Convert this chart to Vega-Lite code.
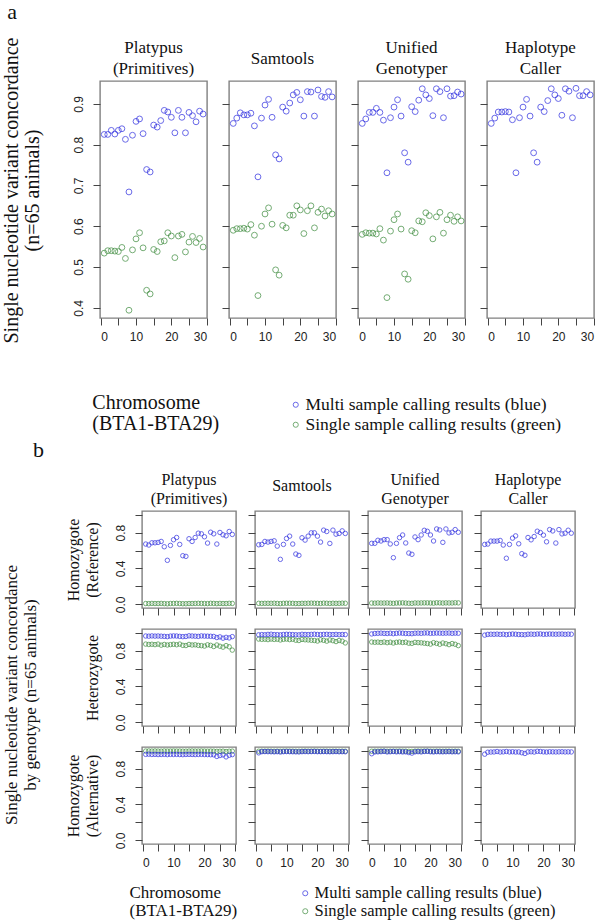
{
  "$schema": "https://vega.github.io/schema/vega-lite/v6.json",
  "description": "SNV concordance per chromosome, multi vs single sample calling",
  "background": "white",
  "padding": {"left": 2, "top": 0, "right": 0, "bottom": 0},
  "config": {
    "view": {"stroke": "#808080", "strokeWidth": 1.4},
    "axis": {"grid": false, "domain": false, "tickColor": "#444", "tickSize": 7, "labelFont": "Liberation Sans", "labelFontSize": 12, "labelColor": "#222", "titleFont": "Liberation Serif", "titleFontWeight": "normal", "titleFontSize": 17, "titleColor": "#111", "titleLineHeight": 20},
    "axisY": {"labelAngle": 270, "labelAlign": "center", "labelBaseline": "bottom", "labelPadding": 8},
    "axisX": {"labelPadding": 6},
    "title": {"font": "Liberation Serif", "fontWeight": "normal", "fontSize": 17, "color": "#111", "lineHeight": 21},
    "point": {"filled": false, "shape": "circle", "strokeWidth": 1, "size": 20},
    "range": {"category": ["#2a2ae0", "#3a8a3a"]},
    "legend": {"orient": "none", "labelFont": "Liberation Serif", "labelFontSize": 16, "labelColor": "#111", "labelLimit": 400, "symbolSize": 26, "symbolStrokeWidth": 1.2, "rowPadding": 1, "labelOffset": 1, "padding": 0}
  },
  "datasets": {
    "aPLm": [{"chr":1,"v":0.825},{"chr":2,"v":0.825},{"chr":3,"v":0.835},{"chr":4,"v":0.826},{"chr":5,"v":0.835},{"chr":6,"v":0.839},{"chr":7,"v":0.813},{"chr":8,"v":0.684},{"chr":9,"v":0.823},{"chr":10,"v":0.857},{"chr":11,"v":0.863},{"chr":12,"v":0.827},{"chr":13,"v":0.739},{"chr":14,"v":0.733},{"chr":15,"v":0.848},{"chr":16,"v":0.843},{"chr":17,"v":0.859},{"chr":18,"v":0.884},{"chr":19,"v":0.880},{"chr":20,"v":0.867},{"chr":21,"v":0.829},{"chr":22,"v":0.884},{"chr":23,"v":0.867},{"chr":24,"v":0.829},{"chr":25,"v":0.879},{"chr":26,"v":0.871},{"chr":27,"v":0.856},{"chr":28,"v":0.882},{"chr":29,"v":0.875}],
    "aPLs": [{"chr":1,"v":0.534},{"chr":2,"v":0.540},{"chr":3,"v":0.540},{"chr":4,"v":0.539},{"chr":5,"v":0.538},{"chr":6,"v":0.548},{"chr":7,"v":0.521},{"chr":8,"v":0.394},{"chr":9,"v":0.542},{"chr":10,"v":0.569},{"chr":11,"v":0.584},{"chr":12,"v":0.547},{"chr":13,"v":0.443},{"chr":14,"v":0.434},{"chr":15,"v":0.543},{"chr":16,"v":0.538},{"chr":17,"v":0.562},{"chr":18,"v":0.564},{"chr":19,"v":0.584},{"chr":20,"v":0.576},{"chr":21,"v":0.523},{"chr":22,"v":0.576},{"chr":23,"v":0.580},{"chr":24,"v":0.537},{"chr":25,"v":0.561},{"chr":26,"v":0.575},{"chr":27,"v":0.560},{"chr":28,"v":0.570},{"chr":29,"v":0.549}],
    "aSTm": [{"chr":1,"v":0.852},{"chr":2,"v":0.865},{"chr":3,"v":0.878},{"chr":4,"v":0.873},{"chr":5,"v":0.873},{"chr":6,"v":0.877},{"chr":7,"v":0.846},{"chr":8,"v":0.721},{"chr":9,"v":0.865},{"chr":10,"v":0.897},{"chr":11,"v":0.911},{"chr":12,"v":0.867},{"chr":13,"v":0.775},{"chr":14,"v":0.765},{"chr":15,"v":0.892},{"chr":16,"v":0.882},{"chr":17,"v":0.902},{"chr":18,"v":0.922},{"chr":19,"v":0.928},{"chr":20,"v":0.910},{"chr":21,"v":0.870},{"chr":22,"v":0.930},{"chr":23,"v":0.929},{"chr":24,"v":0.870},{"chr":25,"v":0.934},{"chr":26,"v":0.918},{"chr":27,"v":0.916},{"chr":28,"v":0.930},{"chr":29,"v":0.917}],
    "aSTs": [{"chr":1,"v":0.590},{"chr":2,"v":0.594},{"chr":3,"v":0.594},{"chr":4,"v":0.595},{"chr":5,"v":0.593},{"chr":6,"v":0.604},{"chr":7,"v":0.578},{"chr":8,"v":0.430},{"chr":9,"v":0.600},{"chr":10,"v":0.630},{"chr":11,"v":0.645},{"chr":12,"v":0.605},{"chr":13,"v":0.493},{"chr":14,"v":0.480},{"chr":15,"v":0.602},{"chr":16,"v":0.596},{"chr":17,"v":0.627},{"chr":18,"v":0.627},{"chr":19,"v":0.650},{"chr":20,"v":0.640},{"chr":21,"v":0.582},{"chr":22,"v":0.638},{"chr":23,"v":0.650},{"chr":24,"v":0.596},{"chr":25,"v":0.634},{"chr":26,"v":0.642},{"chr":27,"v":0.625},{"chr":28,"v":0.638},{"chr":29,"v":0.630}],
    "aUGm": [{"chr":1,"v":0.852},{"chr":2,"v":0.863},{"chr":3,"v":0.879},{"chr":4,"v":0.879},{"chr":5,"v":0.889},{"chr":6,"v":0.879},{"chr":7,"v":0.860},{"chr":8,"v":0.731},{"chr":9,"v":0.866},{"chr":10,"v":0.892},{"chr":11,"v":0.910},{"chr":12,"v":0.870},{"chr":13,"v":0.780},{"chr":14,"v":0.757},{"chr":15,"v":0.893},{"chr":16,"v":0.881},{"chr":17,"v":0.909},{"chr":18,"v":0.937},{"chr":19,"v":0.922},{"chr":20,"v":0.913},{"chr":21,"v":0.871},{"chr":22,"v":0.937},{"chr":23,"v":0.930},{"chr":24,"v":0.866},{"chr":25,"v":0.937},{"chr":26,"v":0.919},{"chr":27,"v":0.920},{"chr":28,"v":0.929},{"chr":29,"v":0.924}],
    "aUGs": [{"chr":1,"v":0.580},{"chr":2,"v":0.584},{"chr":3,"v":0.583},{"chr":4,"v":0.583},{"chr":5,"v":0.581},{"chr":6,"v":0.594},{"chr":7,"v":0.566},{"chr":8,"v":0.425},{"chr":9,"v":0.588},{"chr":10,"v":0.616},{"chr":11,"v":0.630},{"chr":12,"v":0.593},{"chr":13,"v":0.483},{"chr":14,"v":0.470},{"chr":15,"v":0.589},{"chr":16,"v":0.584},{"chr":17,"v":0.613},{"chr":18,"v":0.611},{"chr":19,"v":0.633},{"chr":20,"v":0.626},{"chr":21,"v":0.569},{"chr":22,"v":0.623},{"chr":23,"v":0.634},{"chr":24,"v":0.583},{"chr":25,"v":0.616},{"chr":26,"v":0.627},{"chr":27,"v":0.612},{"chr":28,"v":0.623},{"chr":29,"v":0.613}],
    "aHCm": [{"chr":1,"v":0.852},{"chr":2,"v":0.865},{"chr":3,"v":0.880},{"chr":4,"v":0.880},{"chr":5,"v":0.881},{"chr":6,"v":0.880},{"chr":7,"v":0.861},{"chr":8,"v":0.731},{"chr":9,"v":0.866},{"chr":10,"v":0.892},{"chr":11,"v":0.911},{"chr":12,"v":0.870},{"chr":13,"v":0.780},{"chr":14,"v":0.757},{"chr":15,"v":0.892},{"chr":16,"v":0.881},{"chr":17,"v":0.908},{"chr":18,"v":0.937},{"chr":19,"v":0.922},{"chr":20,"v":0.913},{"chr":21,"v":0.872},{"chr":22,"v":0.937},{"chr":23,"v":0.931},{"chr":24,"v":0.866},{"chr":25,"v":0.938},{"chr":26,"v":0.920},{"chr":27,"v":0.920},{"chr":28,"v":0.930},{"chr":29,"v":0.922}],
    "refPLm": [{"chr":1,"v":0.672},{"chr":2,"v":0.661},{"chr":3,"v":0.686},{"chr":4,"v":0.686},{"chr":5,"v":0.690},{"chr":6,"v":0.701},{"chr":7,"v":0.642},{"chr":8,"v":0.491},{"chr":9,"v":0.657},{"chr":10,"v":0.720},{"chr":11,"v":0.745},{"chr":12,"v":0.668},{"chr":13,"v":0.542},{"chr":14,"v":0.535},{"chr":15,"v":0.731},{"chr":16,"v":0.701},{"chr":17,"v":0.745},{"chr":18,"v":0.793},{"chr":19,"v":0.786},{"chr":20,"v":0.753},{"chr":21,"v":0.683},{"chr":22,"v":0.804},{"chr":23,"v":0.786},{"chr":24,"v":0.672},{"chr":25,"v":0.801},{"chr":26,"v":0.775},{"chr":27,"v":0.764},{"chr":28,"v":0.812},{"chr":29,"v":0.779}],
    "refPLs": [{"chr":1,"v":0.010},{"chr":2,"v":0.009},{"chr":3,"v":0.011},{"chr":4,"v":0.010},{"chr":5,"v":0.010},{"chr":6,"v":0.011},{"chr":7,"v":0.009},{"chr":8,"v":0.007},{"chr":9,"v":0.010},{"chr":10,"v":0.011},{"chr":11,"v":0.012},{"chr":12,"v":0.010},{"chr":13,"v":0.008},{"chr":14,"v":0.008},{"chr":15,"v":0.010},{"chr":16,"v":0.010},{"chr":17,"v":0.011},{"chr":18,"v":0.012},{"chr":19,"v":0.011},{"chr":20,"v":0.010},{"chr":21,"v":0.009},{"chr":22,"v":0.012},{"chr":23,"v":0.011},{"chr":24,"v":0.009},{"chr":25,"v":0.011},{"chr":26,"v":0.010},{"chr":27,"v":0.010},{"chr":28,"v":0.012},{"chr":29,"v":0.011}],
    "refSTm": [{"chr":1,"v":0.664},{"chr":2,"v":0.668},{"chr":3,"v":0.701},{"chr":4,"v":0.694},{"chr":5,"v":0.701},{"chr":6,"v":0.708},{"chr":7,"v":0.649},{"chr":8,"v":0.502},{"chr":9,"v":0.668},{"chr":10,"v":0.734},{"chr":11,"v":0.760},{"chr":12,"v":0.672},{"chr":13,"v":0.561},{"chr":14,"v":0.546},{"chr":15,"v":0.742},{"chr":16,"v":0.716},{"chr":17,"v":0.760},{"chr":18,"v":0.797},{"chr":19,"v":0.797},{"chr":20,"v":0.760},{"chr":21,"v":0.694},{"chr":22,"v":0.827},{"chr":23,"v":0.812},{"chr":24,"v":0.679},{"chr":25,"v":0.827},{"chr":26,"v":0.782},{"chr":27,"v":0.790},{"chr":28,"v":0.819},{"chr":29,"v":0.790}],
    "refSTs": [{"chr":1,"v":0.012},{"chr":2,"v":0.011},{"chr":3,"v":0.012},{"chr":4,"v":0.012},{"chr":5,"v":0.012},{"chr":6,"v":0.013},{"chr":7,"v":0.011},{"chr":8,"v":0.009},{"chr":9,"v":0.012},{"chr":10,"v":0.013},{"chr":11,"v":0.013},{"chr":12,"v":0.012},{"chr":13,"v":0.010},{"chr":14,"v":0.010},{"chr":15,"v":0.012},{"chr":16,"v":0.012},{"chr":17,"v":0.013},{"chr":18,"v":0.014},{"chr":19,"v":0.013},{"chr":20,"v":0.012},{"chr":21,"v":0.011},{"chr":22,"v":0.014},{"chr":23,"v":0.013},{"chr":24,"v":0.011},{"chr":25,"v":0.013},{"chr":26,"v":0.012},{"chr":27,"v":0.012},{"chr":28,"v":0.014},{"chr":29,"v":0.013}],
    "refUGm": [{"chr":1,"v":0.680},{"chr":2,"v":0.680},{"chr":3,"v":0.714},{"chr":4,"v":0.706},{"chr":5,"v":0.721},{"chr":6,"v":0.721},{"chr":7,"v":0.673},{"chr":8,"v":0.520},{"chr":9,"v":0.680},{"chr":10,"v":0.743},{"chr":11,"v":0.773},{"chr":12,"v":0.684},{"chr":13,"v":0.572},{"chr":14,"v":0.558},{"chr":15,"v":0.751},{"chr":16,"v":0.721},{"chr":17,"v":0.773},{"chr":18,"v":0.825},{"chr":19,"v":0.814},{"chr":20,"v":0.773},{"chr":21,"v":0.706},{"chr":22,"v":0.840},{"chr":23,"v":0.829},{"chr":24,"v":0.691},{"chr":25,"v":0.840},{"chr":26,"v":0.796},{"chr":27,"v":0.803},{"chr":28,"v":0.833},{"chr":29,"v":0.803}],
    "refUGs": [{"chr":1,"v":0.015},{"chr":2,"v":0.014},{"chr":3,"v":0.016},{"chr":4,"v":0.015},{"chr":5,"v":0.015},{"chr":6,"v":0.016},{"chr":7,"v":0.014},{"chr":8,"v":0.012},{"chr":9,"v":0.015},{"chr":10,"v":0.016},{"chr":11,"v":0.017},{"chr":12,"v":0.015},{"chr":13,"v":0.013},{"chr":14,"v":0.012},{"chr":15,"v":0.016},{"chr":16,"v":0.015},{"chr":17,"v":0.016},{"chr":18,"v":0.017},{"chr":19,"v":0.017},{"chr":20,"v":0.016},{"chr":21,"v":0.014},{"chr":22,"v":0.018},{"chr":23,"v":0.017},{"chr":24,"v":0.015},{"chr":25,"v":0.017},{"chr":26,"v":0.016},{"chr":27,"v":0.016},{"chr":28,"v":0.018},{"chr":29,"v":0.017}],
    "refHCm": [{"chr":1,"v":0.668},{"chr":2,"v":0.672},{"chr":3,"v":0.705},{"chr":4,"v":0.705},{"chr":5,"v":0.705},{"chr":6,"v":0.712},{"chr":7,"v":0.661},{"chr":8,"v":0.514},{"chr":9,"v":0.668},{"chr":10,"v":0.738},{"chr":11,"v":0.763},{"chr":12,"v":0.675},{"chr":13,"v":0.565},{"chr":14,"v":0.547},{"chr":15,"v":0.745},{"chr":16,"v":0.719},{"chr":17,"v":0.756},{"chr":18,"v":0.815},{"chr":19,"v":0.800},{"chr":20,"v":0.771},{"chr":21,"v":0.697},{"chr":22,"v":0.833},{"chr":23,"v":0.818},{"chr":24,"v":0.683},{"chr":25,"v":0.833},{"chr":26,"v":0.785},{"chr":27,"v":0.793},{"chr":28,"v":0.826},{"chr":29,"v":0.793}],
    "hetPLm": [{"chr":1,"v":0.962},{"chr":2,"v":0.960},{"chr":3,"v":0.963},{"chr":4,"v":0.961},{"chr":5,"v":0.962},{"chr":6,"v":0.960},{"chr":7,"v":0.958},{"chr":8,"v":0.955},{"chr":9,"v":0.961},{"chr":10,"v":0.963},{"chr":11,"v":0.962},{"chr":12,"v":0.958},{"chr":13,"v":0.955},{"chr":14,"v":0.957},{"chr":15,"v":0.964},{"chr":16,"v":0.962},{"chr":17,"v":0.960},{"chr":18,"v":0.958},{"chr":19,"v":0.963},{"chr":20,"v":0.961},{"chr":21,"v":0.960},{"chr":22,"v":0.959},{"chr":23,"v":0.957},{"chr":24,"v":0.945},{"chr":25,"v":0.952},{"chr":26,"v":0.938},{"chr":27,"v":0.947},{"chr":28,"v":0.941},{"chr":29,"v":0.955}],
    "hetPLs": [{"chr":1,"v":0.872},{"chr":2,"v":0.868},{"chr":3,"v":0.870},{"chr":4,"v":0.866},{"chr":5,"v":0.872},{"chr":6,"v":0.860},{"chr":7,"v":0.868},{"chr":8,"v":0.862},{"chr":9,"v":0.866},{"chr":10,"v":0.870},{"chr":11,"v":0.865},{"chr":12,"v":0.872},{"chr":13,"v":0.858},{"chr":14,"v":0.856},{"chr":15,"v":0.868},{"chr":16,"v":0.862},{"chr":17,"v":0.864},{"chr":18,"v":0.858},{"chr":19,"v":0.855},{"chr":20,"v":0.850},{"chr":21,"v":0.864},{"chr":22,"v":0.858},{"chr":23,"v":0.845},{"chr":24,"v":0.862},{"chr":25,"v":0.848},{"chr":26,"v":0.838},{"chr":27,"v":0.855},{"chr":28,"v":0.842},{"chr":29,"v":0.805}],
    "hetSTm": [{"chr":1,"v":0.975},{"chr":2,"v":0.978},{"chr":3,"v":0.976},{"chr":4,"v":0.980},{"chr":5,"v":0.982},{"chr":6,"v":0.978},{"chr":7,"v":0.977},{"chr":8,"v":0.975},{"chr":9,"v":0.979},{"chr":10,"v":0.981},{"chr":11,"v":0.980},{"chr":12,"v":0.978},{"chr":13,"v":0.976},{"chr":14,"v":0.975},{"chr":15,"v":0.981},{"chr":16,"v":0.979},{"chr":17,"v":0.978},{"chr":18,"v":0.980},{"chr":19,"v":0.982},{"chr":20,"v":0.979},{"chr":21,"v":0.978},{"chr":22,"v":0.980},{"chr":23,"v":0.981},{"chr":24,"v":0.979},{"chr":25,"v":0.978},{"chr":26,"v":0.980},{"chr":27,"v":0.977},{"chr":28,"v":0.979},{"chr":29,"v":0.978}],
    "hetSTs": [{"chr":1,"v":0.928},{"chr":2,"v":0.925},{"chr":3,"v":0.926},{"chr":4,"v":0.922},{"chr":5,"v":0.928},{"chr":6,"v":0.924},{"chr":7,"v":0.926},{"chr":8,"v":0.918},{"chr":9,"v":0.925},{"chr":10,"v":0.928},{"chr":11,"v":0.922},{"chr":12,"v":0.926},{"chr":13,"v":0.915},{"chr":14,"v":0.912},{"chr":15,"v":0.924},{"chr":16,"v":0.920},{"chr":17,"v":0.918},{"chr":18,"v":0.915},{"chr":19,"v":0.912},{"chr":20,"v":0.906},{"chr":21,"v":0.920},{"chr":22,"v":0.914},{"chr":23,"v":0.905},{"chr":24,"v":0.918},{"chr":25,"v":0.910},{"chr":26,"v":0.900},{"chr":27,"v":0.912},{"chr":28,"v":0.905},{"chr":29,"v":0.885}],
    "hetUGm": [{"chr":1,"v":0.985},{"chr":2,"v":0.990},{"chr":3,"v":0.992},{"chr":4,"v":0.994},{"chr":5,"v":0.991},{"chr":6,"v":0.990},{"chr":7,"v":0.993},{"chr":8,"v":0.988},{"chr":9,"v":0.992},{"chr":10,"v":0.995},{"chr":11,"v":0.993},{"chr":12,"v":0.990},{"chr":13,"v":0.989},{"chr":14,"v":0.988},{"chr":15,"v":0.993},{"chr":16,"v":0.994},{"chr":17,"v":0.992},{"chr":18,"v":0.995},{"chr":19,"v":0.996},{"chr":20,"v":0.992},{"chr":21,"v":0.993},{"chr":22,"v":0.995},{"chr":23,"v":0.994},{"chr":24,"v":0.993},{"chr":25,"v":0.994},{"chr":26,"v":0.995},{"chr":27,"v":0.992},{"chr":28,"v":0.994},{"chr":29,"v":0.993}],
    "hetUGs": [{"chr":1,"v":0.895},{"chr":2,"v":0.892},{"chr":3,"v":0.894},{"chr":4,"v":0.890},{"chr":5,"v":0.895},{"chr":6,"v":0.888},{"chr":7,"v":0.893},{"chr":8,"v":0.884},{"chr":9,"v":0.892},{"chr":10,"v":0.895},{"chr":11,"v":0.890},{"chr":12,"v":0.893},{"chr":13,"v":0.882},{"chr":14,"v":0.880},{"chr":15,"v":0.891},{"chr":16,"v":0.888},{"chr":17,"v":0.886},{"chr":18,"v":0.882},{"chr":19,"v":0.878},{"chr":20,"v":0.872},{"chr":21,"v":0.888},{"chr":22,"v":0.880},{"chr":23,"v":0.870},{"chr":24,"v":0.884},{"chr":25,"v":0.876},{"chr":26,"v":0.866},{"chr":27,"v":0.878},{"chr":28,"v":0.870},{"chr":29,"v":0.855}],
    "hetHCm": [{"chr":1,"v":0.972},{"chr":2,"v":0.980},{"chr":3,"v":0.982},{"chr":4,"v":0.981},{"chr":5,"v":0.983},{"chr":6,"v":0.980},{"chr":7,"v":0.982},{"chr":8,"v":0.977},{"chr":9,"v":0.981},{"chr":10,"v":0.984},{"chr":11,"v":0.982},{"chr":12,"v":0.979},{"chr":13,"v":0.978},{"chr":14,"v":0.976},{"chr":15,"v":0.982},{"chr":16,"v":0.983},{"chr":17,"v":0.981},{"chr":18,"v":0.984},{"chr":19,"v":0.985},{"chr":20,"v":0.981},{"chr":21,"v":0.982},{"chr":22,"v":0.984},{"chr":23,"v":0.983},{"chr":24,"v":0.982},{"chr":25,"v":0.983},{"chr":26,"v":0.984},{"chr":27,"v":0.981},{"chr":28,"v":0.983},{"chr":29,"v":0.982}],
    "altPLm": [{"chr":1,"v":0.958},{"chr":2,"v":0.960},{"chr":3,"v":0.957},{"chr":4,"v":0.958},{"chr":5,"v":0.956},{"chr":6,"v":0.957},{"chr":7,"v":0.958},{"chr":8,"v":0.955},{"chr":9,"v":0.958},{"chr":10,"v":0.957},{"chr":11,"v":0.958},{"chr":12,"v":0.956},{"chr":13,"v":0.955},{"chr":14,"v":0.957},{"chr":15,"v":0.958},{"chr":16,"v":0.957},{"chr":17,"v":0.956},{"chr":18,"v":0.957},{"chr":19,"v":0.958},{"chr":20,"v":0.956},{"chr":21,"v":0.955},{"chr":22,"v":0.954},{"chr":23,"v":0.953},{"chr":24,"v":0.935},{"chr":25,"v":0.945},{"chr":26,"v":0.952},{"chr":27,"v":0.930},{"chr":28,"v":0.948},{"chr":29,"v":0.955}],
    "altPLs": [{"chr":1,"v":0.995},{"chr":2,"v":0.996},{"chr":3,"v":0.995},{"chr":4,"v":0.996},{"chr":5,"v":0.995},{"chr":6,"v":0.994},{"chr":7,"v":0.996},{"chr":8,"v":0.995},{"chr":9,"v":0.995},{"chr":10,"v":0.996},{"chr":11,"v":0.995},{"chr":12,"v":0.995},{"chr":13,"v":0.994},{"chr":14,"v":0.994},{"chr":15,"v":0.995},{"chr":16,"v":0.996},{"chr":17,"v":0.995},{"chr":18,"v":0.995},{"chr":19,"v":0.996},{"chr":20,"v":0.995},{"chr":21,"v":0.994},{"chr":22,"v":0.995},{"chr":23,"v":0.994},{"chr":24,"v":0.992},{"chr":25,"v":0.993},{"chr":26,"v":0.994},{"chr":27,"v":0.990},{"chr":28,"v":0.993},{"chr":29,"v":0.994}],
    "altSTm": [{"chr":1,"v":0.975},{"chr":2,"v":0.988},{"chr":3,"v":0.989},{"chr":4,"v":0.988},{"chr":5,"v":0.987},{"chr":6,"v":0.986},{"chr":7,"v":0.988},{"chr":8,"v":0.984},{"chr":9,"v":0.988},{"chr":10,"v":0.989},{"chr":11,"v":0.988},{"chr":12,"v":0.987},{"chr":13,"v":0.986},{"chr":14,"v":0.985},{"chr":15,"v":0.988},{"chr":16,"v":0.989},{"chr":17,"v":0.988},{"chr":18,"v":0.989},{"chr":19,"v":0.990},{"chr":20,"v":0.988},{"chr":21,"v":0.988},{"chr":22,"v":0.989},{"chr":23,"v":0.988},{"chr":24,"v":0.987},{"chr":25,"v":0.988},{"chr":26,"v":0.989},{"chr":27,"v":0.987},{"chr":28,"v":0.988},{"chr":29,"v":0.987}],
    "altSTs": [{"chr":1,"v":0.993},{"chr":2,"v":0.994},{"chr":3,"v":0.994},{"chr":4,"v":0.995},{"chr":5,"v":0.994},{"chr":6,"v":0.993},{"chr":7,"v":0.994},{"chr":8,"v":0.993},{"chr":9,"v":0.994},{"chr":10,"v":0.995},{"chr":11,"v":0.994},{"chr":12,"v":0.994},{"chr":13,"v":0.993},{"chr":14,"v":0.993},{"chr":15,"v":0.994},{"chr":16,"v":0.995},{"chr":17,"v":0.994},{"chr":18,"v":0.994},{"chr":19,"v":0.995},{"chr":20,"v":0.994},{"chr":21,"v":0.993},{"chr":22,"v":0.994},{"chr":23,"v":0.994},{"chr":24,"v":0.993},{"chr":25,"v":0.994},{"chr":26,"v":0.994},{"chr":27,"v":0.993},{"chr":28,"v":0.994},{"chr":29,"v":0.993}],
    "altUGm": [{"chr":1,"v":0.965},{"chr":2,"v":0.985},{"chr":3,"v":0.986},{"chr":4,"v":0.988},{"chr":5,"v":0.992},{"chr":6,"v":0.985},{"chr":7,"v":0.987},{"chr":8,"v":0.990},{"chr":9,"v":0.986},{"chr":10,"v":0.988},{"chr":11,"v":0.985},{"chr":12,"v":0.986},{"chr":13,"v":0.978},{"chr":14,"v":0.972},{"chr":15,"v":0.986},{"chr":16,"v":0.988},{"chr":17,"v":0.985},{"chr":18,"v":0.990},{"chr":19,"v":0.992},{"chr":20,"v":0.987},{"chr":21,"v":0.985},{"chr":22,"v":0.988},{"chr":23,"v":0.987},{"chr":24,"v":0.986},{"chr":25,"v":0.987},{"chr":26,"v":0.988},{"chr":27,"v":0.986},{"chr":28,"v":0.987},{"chr":29,"v":0.986}],
    "altUGs": [{"chr":1,"v":0.993},{"chr":2,"v":0.994},{"chr":3,"v":0.994},{"chr":4,"v":0.995},{"chr":5,"v":0.995},{"chr":6,"v":0.993},{"chr":7,"v":0.994},{"chr":8,"v":0.994},{"chr":9,"v":0.994},{"chr":10,"v":0.995},{"chr":11,"v":0.994},{"chr":12,"v":0.994},{"chr":13,"v":0.992},{"chr":14,"v":0.991},{"chr":15,"v":0.994},{"chr":16,"v":0.995},{"chr":17,"v":0.994},{"chr":18,"v":0.995},{"chr":19,"v":0.995},{"chr":20,"v":0.994},{"chr":21,"v":0.993},{"chr":22,"v":0.994},{"chr":23,"v":0.994},{"chr":24,"v":0.993},{"chr":25,"v":0.994},{"chr":26,"v":0.994},{"chr":27,"v":0.993},{"chr":28,"v":0.994},{"chr":29,"v":0.993}],
    "altHCm": [{"chr":1,"v":0.960},{"chr":2,"v":0.982},{"chr":3,"v":0.984},{"chr":4,"v":0.985},{"chr":5,"v":0.990},{"chr":6,"v":0.984},{"chr":7,"v":0.986},{"chr":8,"v":0.990},{"chr":9,"v":0.985},{"chr":10,"v":0.987},{"chr":11,"v":0.984},{"chr":12,"v":0.985},{"chr":13,"v":0.976},{"chr":14,"v":0.968},{"chr":15,"v":0.985},{"chr":16,"v":0.987},{"chr":17,"v":0.984},{"chr":18,"v":0.992},{"chr":19,"v":0.990},{"chr":20,"v":0.986},{"chr":21,"v":0.984},{"chr":22,"v":0.987},{"chr":23,"v":0.986},{"chr":24,"v":0.985},{"chr":25,"v":0.986},{"chr":26,"v":0.987},{"chr":27,"v":0.985},{"chr":28,"v":0.986},{"chr":29,"v":0.985}]
  },
  "resolve": {"scale": {"color": "independent"}},
  "columns": 1,
  "spacing": 4,
  "concat": [
    {
      "title": {"text": "a", "anchor": "start", "fontSize": 22, "dx": 5, "offset": 14},
      "resolve": {"scale": {"color": "shared"}},
      "vconcat": [
        {
          "title": {"text": ["Chromosome", "(BTA1-BTA29)"], "orient": "bottom", "anchor": "start", "dx": 90, "offset": 50, "fontSize": 20, "lineHeight": 21},
          "resolve": {"scale": {"color": "shared"}},
          "vconcat": [
            {
              "title": {"text": ["Single nucleotide variant concordance", "(n=65 animals)"], "orient": "left", "anchor": "middle", "offset": 28, "fontSize": 20, "lineHeight": 21},
              "columns": 4,
              "spacing": 22,
              "bounds": "flush",
              "resolve": {"scale": {"color": "shared", "x": "independent", "y": "independent"}},
              "concat": [
                {
                  "width": 107, "height": 237,
                  "title": {"text": ["Platypus", "(Primitives)"], "offset": 3},
                  "encoding": {
                    "x": {"field": "chr", "type": "quantitative", "scale": {"domain": [-0.2, 30.1], "nice": false}, "axis": {"values": [0, 5, 10, 15, 20, 25, 30], "labelExpr": "datum.value % 10 ? '' : datum.label", "title": null}},
                    "y": {"field": "v", "type": "quantitative", "scale": {"domain": [0.375, 0.956], "nice": false}, "axis": {"values": [0.4, 0.5, 0.6, 0.7, 0.8, 0.9], "format": ".1f", "title": null}}
                  },
                  "layer": [
                    {"data": {"name": "aPLs"}, "mark": {"type": "point", "size": 34}, "encoding": {"color": {"datum": "single", "scale": {"domain": ["multi", "single"]}, "legend": {"title": null, "legendX": 187, "legendY": 315, "labelFontSize": 17.5, "labelExpr": "datum.label == 'multi' ? 'Multi sample calling results (blue)' : 'Single sample calling results (green)'"}}}},
                    {"data": {"name": "aPLm"}, "mark": {"type": "point", "size": 34}, "encoding": {"color": {"datum": "multi", "scale": {"domain": ["multi", "single"]}}}}
                  ]
                },
                {
                  "width": 107, "height": 237,
                  "title": {"text": "Samtools", "offset": 13},
                  "encoding": {
                    "x": {"field": "chr", "type": "quantitative", "scale": {"domain": [-0.2, 30.1], "nice": false}, "axis": {"values": [0, 5, 10, 15, 20, 25, 30], "labelExpr": "datum.value % 10 ? '' : datum.label", "title": null}},
                    "y": {"field": "v", "type": "quantitative", "scale": {"domain": [0.375, 0.956], "nice": false}, "axis": {"values": [0.4, 0.5, 0.6, 0.7, 0.8, 0.9], "labels": false, "title": null}}
                  },
                  "layer": [
                    {"data": {"name": "aSTs"}, "mark": {"type": "point", "size": 34}, "encoding": {"color": {"datum": "single", "scale": {"domain": ["multi", "single"]}}}},
                    {"data": {"name": "aSTm"}, "mark": {"type": "point", "size": 34}, "encoding": {"color": {"datum": "multi", "scale": {"domain": ["multi", "single"]}}}}
                  ]
                },
                {
                  "width": 107, "height": 237,
                  "title": {"text": ["Unified", "Genotyper"], "offset": 3},
                  "encoding": {
                    "x": {"field": "chr", "type": "quantitative", "scale": {"domain": [-0.2, 30.1], "nice": false}, "axis": {"values": [0, 5, 10, 15, 20, 25, 30], "labelExpr": "datum.value % 10 ? '' : datum.label", "title": null}},
                    "y": {"field": "v", "type": "quantitative", "scale": {"domain": [0.375, 0.956], "nice": false}, "axis": {"values": [0.4, 0.5, 0.6, 0.7, 0.8, 0.9], "labels": false, "title": null}}
                  },
                  "layer": [
                    {"data": {"name": "aUGs"}, "mark": {"type": "point", "size": 34}, "encoding": {"color": {"datum": "single", "scale": {"domain": ["multi", "single"]}}}},
                    {"data": {"name": "aUGm"}, "mark": {"type": "point", "size": 34}, "encoding": {"color": {"datum": "multi", "scale": {"domain": ["multi", "single"]}}}}
                  ]
                },
                {
                  "width": 107, "height": 237,
                  "title": {"text": ["Haplotype", "Caller"], "offset": 3},
                  "encoding": {
                    "x": {"field": "chr", "type": "quantitative", "scale": {"domain": [-0.2, 30.1], "nice": false}, "axis": {"values": [0, 5, 10, 15, 20, 25, 30], "labelExpr": "datum.value % 10 ? '' : datum.label", "title": null}},
                    "y": {"field": "v", "type": "quantitative", "scale": {"domain": [0.375, 0.956], "nice": false}, "axis": {"values": [0.4, 0.5, 0.6, 0.7, 0.8, 0.9], "labels": false, "title": null}}
                  },
                  "layer": [
                    {"data": {"name": "aHCm"}, "mark": {"type": "point", "size": 34}, "encoding": {"color": {"datum": "multi", "scale": {"domain": ["multi", "single"]}}}}
                  ]
                }
              ]
            }
          ]
        }
      ]
    },
    {
      "title": {"text": "b", "anchor": "start", "fontSize": 22, "dx": 30, "offset": 9},
      "resolve": {"scale": {"color": "shared"}},
      "vconcat": [
        {
          "title": {"text": ["Single nucleotide variant concordance", "by genotype (n=65 animals)"], "orient": "left", "anchor": "middle", "offset": 25, "fontSize": 17, "lineHeight": 19},
          "columns": 5,
          "spacing": {"row": 21, "column": 19},
          "bounds": "flush",
          "resolve": {"scale": {"color": "shared", "x": "independent", "y": "independent"}},
          "concat": [
            {
              "width": 23, "height": 97, "view": {"stroke": null},
              "data": {"values": []}, "mark": "point",
              "encoding": {"y": {"field": "v", "type": "quantitative", "scale": {"domain": [-0.04, 1.04], "nice": false}, "axis": {"ticks": false, "labels": false, "title": ["Homozygote", "(Reference)"], "titleFontSize": 16, "titleLineHeight": 19, "titlePadding": 0}}}
            },
            {
              "width": 94, "height": 97,
              "title": {"text": ["Platypus", "(Primitives)"], "fontSize": 16, "lineHeight": 19, "offset": 4},
              "encoding": {
                "x": {"field": "chr", "type": "quantitative", "scale": {"domain": [-0.2, 30.2], "nice": false}, "axis": {"values": [0, 5, 10, 15, 20, 25, 30], "labels": false, "title": null}},
                "y": {"field": "v", "type": "quantitative", "scale": {"domain": [-0.04, 1.04], "nice": false}, "axis": {"values": [0, 0.2, 0.4, 0.6, 0.8, 1], "labelExpr": "datum.value == 0 || datum.value == 0.4 || datum.value == 0.8 ? format(datum.value, '.1f') : ''", "title": null}}
              },
              "layer": [
                {"data": {"name": "refPLs"}, "mark": "point", "encoding": {"color": {"datum": "single", "scale": {"domain": ["multi", "single"]}, "legend": {"title": null, "legendX": 197, "legendY": 374, "labelFontSize": 16.5, "labelExpr": "datum.label == 'multi' ? 'Multi sample calling results (blue)' : 'Single sample calling results (green)'"}}}},
                {"data": {"name": "refPLm"}, "mark": "point", "encoding": {"color": {"datum": "multi", "scale": {"domain": ["multi", "single"]}}}}
              ]
            },
            {
              "width": 94, "height": 97,
              "title": {"text": "Samtools", "fontSize": 16, "offset": 17},
              "encoding": {
                "x": {"field": "chr", "type": "quantitative", "scale": {"domain": [-0.2, 30.2], "nice": false}, "axis": {"values": [0, 5, 10, 15, 20, 25, 30], "labels": false, "title": null}},
                "y": {"field": "v", "type": "quantitative", "scale": {"domain": [-0.04, 1.04], "nice": false}, "axis": {"values": [0, 0.2, 0.4, 0.6, 0.8, 1], "labels": false, "title": null}}
              },
              "layer": [
                {"data": {"name": "refSTs"}, "mark": "point", "encoding": {"color": {"datum": "single", "scale": {"domain": ["multi", "single"]}}}},
                {"data": {"name": "refSTm"}, "mark": "point", "encoding": {"color": {"datum": "multi", "scale": {"domain": ["multi", "single"]}}}}
              ]
            },
            {
              "width": 94, "height": 97,
              "title": {"text": ["Unified", "Genotyper"], "fontSize": 16, "lineHeight": 19, "offset": 4},
              "encoding": {
                "x": {"field": "chr", "type": "quantitative", "scale": {"domain": [-0.2, 30.2], "nice": false}, "axis": {"values": [0, 5, 10, 15, 20, 25, 30], "labels": false, "title": null}},
                "y": {"field": "v", "type": "quantitative", "scale": {"domain": [-0.04, 1.04], "nice": false}, "axis": {"values": [0, 0.2, 0.4, 0.6, 0.8, 1], "labels": false, "title": null}}
              },
              "layer": [
                {"data": {"name": "refUGs"}, "mark": "point", "encoding": {"color": {"datum": "single", "scale": {"domain": ["multi", "single"]}}}},
                {"data": {"name": "refUGm"}, "mark": "point", "encoding": {"color": {"datum": "multi", "scale": {"domain": ["multi", "single"]}}}}
              ]
            },
            {
              "width": 94, "height": 97,
              "title": {"text": ["Haplotype", "Caller"], "fontSize": 16, "lineHeight": 19, "offset": 4},
              "encoding": {
                "x": {"field": "chr", "type": "quantitative", "scale": {"domain": [-0.2, 30.2], "nice": false}, "axis": {"values": [0, 5, 10, 15, 20, 25, 30], "labels": false, "title": null}},
                "y": {"field": "v", "type": "quantitative", "scale": {"domain": [-0.04, 1.04], "nice": false}, "axis": {"values": [0, 0.2, 0.4, 0.6, 0.8, 1], "labels": false, "title": null}}
              },
              "layer": [
                {"data": {"name": "refHCm"}, "mark": "point", "encoding": {"color": {"datum": "multi", "scale": {"domain": ["multi", "single"]}}}}
              ]
            },
            {
              "width": 23, "height": 97, "view": {"stroke": null},
              "data": {"values": []}, "mark": "point",
              "encoding": {"y": {"field": "v", "type": "quantitative", "scale": {"domain": [-0.04, 1.04], "nice": false}, "axis": {"ticks": false, "labels": false, "title": "Heterozygote", "titleFontSize": 16, "titlePadding": 0}}}
            },
            {
              "width": 94, "height": 97,
              "encoding": {
                "x": {"field": "chr", "type": "quantitative", "scale": {"domain": [-0.2, 30.2], "nice": false}, "axis": {"values": [0, 5, 10, 15, 20, 25, 30], "labels": false, "title": null}},
                "y": {"field": "v", "type": "quantitative", "scale": {"domain": [-0.04, 1.04], "nice": false}, "axis": {"values": [0, 0.2, 0.4, 0.6, 0.8, 1], "labelExpr": "datum.value == 0 || datum.value == 0.4 || datum.value == 0.8 ? format(datum.value, '.1f') : ''", "title": null}}
              },
              "layer": [
                {"data": {"name": "hetPLs"}, "mark": "point", "encoding": {"color": {"datum": "single", "scale": {"domain": ["multi", "single"]}}}},
                {"data": {"name": "hetPLm"}, "mark": "point", "encoding": {"color": {"datum": "multi", "scale": {"domain": ["multi", "single"]}}}}
              ]
            },
            {
              "width": 94, "height": 97,
              "encoding": {
                "x": {"field": "chr", "type": "quantitative", "scale": {"domain": [-0.2, 30.2], "nice": false}, "axis": {"values": [0, 5, 10, 15, 20, 25, 30], "labels": false, "title": null}},
                "y": {"field": "v", "type": "quantitative", "scale": {"domain": [-0.04, 1.04], "nice": false}, "axis": {"values": [0, 0.2, 0.4, 0.6, 0.8, 1], "labels": false, "title": null}}
              },
              "layer": [
                {"data": {"name": "hetSTs"}, "mark": "point", "encoding": {"color": {"datum": "single", "scale": {"domain": ["multi", "single"]}}}},
                {"data": {"name": "hetSTm"}, "mark": "point", "encoding": {"color": {"datum": "multi", "scale": {"domain": ["multi", "single"]}}}}
              ]
            },
            {
              "width": 94, "height": 97,
              "encoding": {
                "x": {"field": "chr", "type": "quantitative", "scale": {"domain": [-0.2, 30.2], "nice": false}, "axis": {"values": [0, 5, 10, 15, 20, 25, 30], "labels": false, "title": null}},
                "y": {"field": "v", "type": "quantitative", "scale": {"domain": [-0.04, 1.04], "nice": false}, "axis": {"values": [0, 0.2, 0.4, 0.6, 0.8, 1], "labels": false, "title": null}}
              },
              "layer": [
                {"data": {"name": "hetUGs"}, "mark": "point", "encoding": {"color": {"datum": "single", "scale": {"domain": ["multi", "single"]}}}},
                {"data": {"name": "hetUGm"}, "mark": "point", "encoding": {"color": {"datum": "multi", "scale": {"domain": ["multi", "single"]}}}}
              ]
            },
            {
              "width": 94, "height": 97,
              "encoding": {
                "x": {"field": "chr", "type": "quantitative", "scale": {"domain": [-0.2, 30.2], "nice": false}, "axis": {"values": [0, 5, 10, 15, 20, 25, 30], "labels": false, "title": null}},
                "y": {"field": "v", "type": "quantitative", "scale": {"domain": [-0.04, 1.04], "nice": false}, "axis": {"values": [0, 0.2, 0.4, 0.6, 0.8, 1], "labels": false, "title": null}}
              },
              "layer": [
                {"data": {"name": "hetHCm"}, "mark": "point", "encoding": {"color": {"datum": "multi", "scale": {"domain": ["multi", "single"]}}}}
              ]
            },
            {
              "width": 23, "height": 97, "view": {"stroke": null},
              "data": {"values": []}, "mark": "point",
              "encoding": {"y": {"field": "v", "type": "quantitative", "scale": {"domain": [-0.04, 1.04], "nice": false}, "axis": {"ticks": false, "labels": false, "title": ["Homozygote", "(Alternative)"], "titleFontSize": 16, "titleLineHeight": 19, "titlePadding": 0}}}
            },
            {
              "width": 94, "height": 97,
              "encoding": {
                "x": {"field": "chr", "type": "quantitative", "scale": {"domain": [-0.2, 30.2], "nice": false}, "axis": {"values": [0, 5, 10, 15, 20, 25, 30], "labelExpr": "datum.value % 10 ? '' : datum.label", "title": ["Chromosome", "(BTA1-BTA29)"], "titleX": -13, "titleY": 40, "titleLineHeight": 18, "titleAlign": "left", "titleBaseline": "top"}},
                "y": {"field": "v", "type": "quantitative", "scale": {"domain": [-0.04, 1.04], "nice": false}, "axis": {"values": [0, 0.2, 0.4, 0.6, 0.8, 1], "labelExpr": "datum.value == 0 || datum.value == 0.4 || datum.value == 0.8 ? format(datum.value, '.1f') : ''", "title": null}}
              },
              "layer": [
                {"data": {"name": "altPLs"}, "mark": "point", "encoding": {"color": {"datum": "single", "scale": {"domain": ["multi", "single"]}}}},
                {"data": {"name": "altPLm"}, "mark": "point", "encoding": {"color": {"datum": "multi", "scale": {"domain": ["multi", "single"]}}}}
              ]
            },
            {
              "width": 94, "height": 97,
              "encoding": {
                "x": {"field": "chr", "type": "quantitative", "scale": {"domain": [-0.2, 30.2], "nice": false}, "axis": {"values": [0, 5, 10, 15, 20, 25, 30], "labelExpr": "datum.value % 10 ? '' : datum.label", "title": null}},
                "y": {"field": "v", "type": "quantitative", "scale": {"domain": [-0.04, 1.04], "nice": false}, "axis": {"values": [0, 0.2, 0.4, 0.6, 0.8, 1], "labels": false, "title": null}}
              },
              "layer": [
                {"data": {"name": "altSTs"}, "mark": "point", "encoding": {"color": {"datum": "single", "scale": {"domain": ["multi", "single"]}}}},
                {"data": {"name": "altSTm"}, "mark": "point", "encoding": {"color": {"datum": "multi", "scale": {"domain": ["multi", "single"]}}}}
              ]
            },
            {
              "width": 94, "height": 97,
              "encoding": {
                "x": {"field": "chr", "type": "quantitative", "scale": {"domain": [-0.2, 30.2], "nice": false}, "axis": {"values": [0, 5, 10, 15, 20, 25, 30], "labelExpr": "datum.value % 10 ? '' : datum.label", "title": null}},
                "y": {"field": "v", "type": "quantitative", "scale": {"domain": [-0.04, 1.04], "nice": false}, "axis": {"values": [0, 0.2, 0.4, 0.6, 0.8, 1], "labels": false, "title": null}}
              },
              "layer": [
                {"data": {"name": "altUGs"}, "mark": "point", "encoding": {"color": {"datum": "single", "scale": {"domain": ["multi", "single"]}}}},
                {"data": {"name": "altUGm"}, "mark": "point", "encoding": {"color": {"datum": "multi", "scale": {"domain": ["multi", "single"]}}}}
              ]
            },
            {
              "width": 94, "height": 97,
              "encoding": {
                "x": {"field": "chr", "type": "quantitative", "scale": {"domain": [-0.2, 30.2], "nice": false}, "axis": {"values": [0, 5, 10, 15, 20, 25, 30], "labelExpr": "datum.value % 10 ? '' : datum.label", "title": null}},
                "y": {"field": "v", "type": "quantitative", "scale": {"domain": [-0.04, 1.04], "nice": false}, "axis": {"values": [0, 0.2, 0.4, 0.6, 0.8, 1], "labels": false, "title": null}}
              },
              "layer": [
                {"data": {"name": "altHCm"}, "mark": "point", "encoding": {"color": {"datum": "multi", "scale": {"domain": ["multi", "single"]}}}}
              ]
            }
          ]
        }
      ]
    }
  ]
}
